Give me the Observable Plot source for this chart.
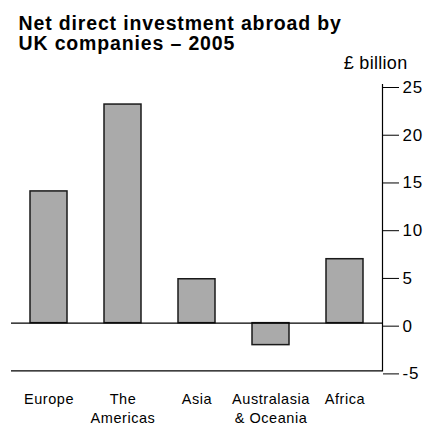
<!DOCTYPE html>
<html>
<head>
<meta charset="utf-8">
<script src="https://cdn.jsdelivr.net/npm/d3@7"></script>
<script src="https://cdn.jsdelivr.net/npm/@observablehq/plot@0.6"></script>
<style>
  html, body { margin: 0; padding: 0; background: #fff; }
</style>
</head>
<body>
<div id="chart"></div>
<script>
const regions = ["Europe", "The Americas", "Asia", "Australasia & Oceania", "Africa"];
const regionLabels = ["Europe", "The\nAmericas", "Asia", "Australasia\n& Oceania", "Africa"];
const values = [13.8, 22.9, 4.6, -2.3, 6.7];
const yTicks = [-5, 0, 5, 10, 15, 20, 25];
const titleText = "Net direct investment abroad by\nUK companies \u2013 2005";
const unitText = "\u00a3 billion";

const data = regions.map((r, i) => ({region: r, value: values[i]}));
const labelOf = new Map(regions.map((r, i) => [r, regionLabels[i]]));

const svg = Plot.plot({
  width: 424,
  height: 426,
  marginTop: 84,
  marginBottom: 55.6,
  marginLeft: 11,
  marginRight: 42,
  style: {fontFamily: "'Liberation Sans', Arial, sans-serif", color: "#000", background: "#fff", fontSize: "14.5px"},
  x: {domain: regions, paddingInner: 0.5, paddingOuter: 0.25, label: null},
  y: {domain: [-5, 25], label: null},
  marks: [
    Plot.barY(data, {x: "region", y: "value", fill: "#aaaaaa", stroke: "#1a1a1a", strokeWidth: 1.5}),
    Plot.ruleY([0, -5], {stroke: "#000", strokeWidth: 1.2}),
    Plot.frame({anchor: "right", stroke: "#000", strokeWidth: 1.2}),
    Plot.axisY(yTicks, {anchor: "right", tickSize: 16, tickPadding: 4, fontSize: 17, dy: 3, tickFormat: d => String(d), label: null, stroke: "#000"}),
    Plot.axisX({tickSize: 0, tickPadding: 20, fontSize: 14.5, lineHeight: 1.3, tickFormat: d => labelOf.get(d), label: null}),
    Plot.text([unitText], {frameAnchor: "top-right", textAnchor: "end", dx: 25, dy: -28, fontSize: 18}),
    Plot.text([titleText], {frameAnchor: "top-left", textAnchor: "start", lineAnchor: "top", dx: 7, dy: -69, fontSize: 19.5, fontWeight: "bold", lineHeight: 1.03})
  ]
});

// widen lettering to match the reference typeface
svg.querySelectorAll("text").forEach(t => {
  const s = t.textContent;
  if (s.startsWith("Net direct")) t.style.letterSpacing = "0.85px";
  else if (s.startsWith("\u00a3")) t.style.letterSpacing = "0.3px";
  else if (/^-?\d+$/.test(s)) t.style.letterSpacing = "0.8px";
  else t.style.letterSpacing = "0.55px";
});

document.getElementById("chart").appendChild(svg);
</script>
</body>
</html>
